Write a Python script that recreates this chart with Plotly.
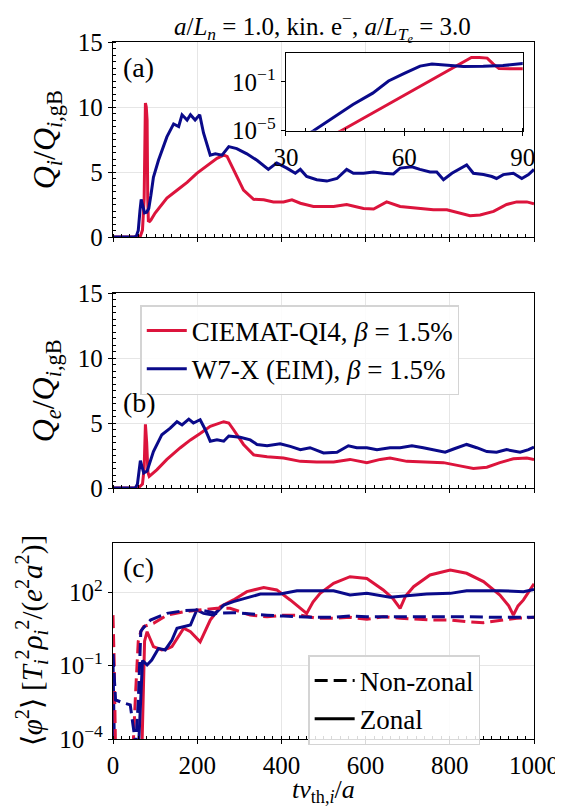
import plotly.graph_objects as go

# ---------------- data ----------------
# Panel (a): ion heat flux Q_i / Q_i,gB
t_qi_ciemat = [0, 30, 44, 50, 55, 60, 65, 70, 74, 77, 79, 81, 82.5, 84, 87, 90,
               100, 128, 152, 176, 199, 223, 247, 263, 271, 286, 310, 334, 358,
               381, 405, 425, 445, 476, 524, 555, 595, 619, 650, 682, 722, 761,
               793, 824, 848, 872, 904, 935, 959, 983, 1000]
qi_ciemat = [1e-9, 3e-8, 1e-5, 1.26e-4, 1e-3, 8.1e-3, 6.6e-2, 0.53, 2.9, 10.3, 10.0,
             9.0, 3.0, 1.25, 1.2, 1.3,
             1.84, 3.0, 3.6, 4.2, 4.9, 5.5, 6.05, 6.3, 6.2, 5.2, 3.6, 2.9, 2.86,
             2.7, 2.7, 2.86, 2.6, 2.35, 2.35, 2.5, 2.2, 2.15, 2.7, 2.35, 2.2, 2.1,
             2.1, 1.84, 1.64, 1.7, 1.97, 2.5, 2.7, 2.7, 2.55]

t_qi_w7x = [0, 30, 37, 42, 47, 52, 56, 60, 64, 67, 70, 75, 80, 85, 90, 96, 108, 128,
            144, 156, 164, 176, 184, 195, 206, 215, 231, 243, 259, 275, 294, 318,
            342, 358, 369, 389, 413, 433, 445, 460, 484, 508, 532, 555, 571, 595,
            619, 642, 666, 682, 710, 729, 753, 769, 785, 805, 820, 840, 856, 880,
            900, 911, 927, 951, 971, 987, 1000]
qi_w7x = [1e-9, 4e-7, 1e-5, 1.1e-4, 1.4e-3, 1.2e-2, 0.12, 0.5, 2.0, 2.9, 2.5, 1.85,
          1.9, 2.2, 3.2, 4.6, 5.9, 7.7, 8.7, 8.5, 9.4, 9.0, 9.4, 9.0, 9.4, 8.0, 6.3,
          6.4, 6.3, 6.95, 6.8, 6.4, 5.9, 5.5, 5.2, 5.7, 5.3, 4.9, 5.2, 4.65, 4.4,
          4.3, 4.5, 5.2, 4.9, 4.9, 5.0, 4.9, 4.85, 5.3, 5.4, 5.2, 5.0, 5.0, 4.4,
          4.9, 5.2, 5.55, 4.9, 4.8, 4.65, 4.5, 4.8, 4.9, 4.5, 4.8, 5.2]

# Panel (b): electron heat flux Q_e / Q_i,gB
t_qe_ciemat = [0, 60, 70, 74, 77, 80, 83, 86, 104, 128, 160, 184, 207, 231, 263,
               275, 286, 310, 334, 366, 405, 445, 484, 524, 563, 603, 635, 658,
               698, 737, 785, 824, 856, 888, 919, 951, 983, 1000]
qe_ciemat = [0, 0, 0.3, 1.5, 4.9, 3.5, 1.2, 0.9, 1.4, 2.2, 3.1, 3.7, 4.2, 4.75, 5.1,
             5.0, 4.5, 3.35, 2.55, 2.4, 2.3, 2.05, 2.0, 2.0, 2.2, 1.95, 2.2, 2.3,
             2.05, 2.0, 1.95, 1.7, 1.5, 1.6, 1.95, 2.25, 2.3, 2.2]

t_qe_w7x = [0, 53, 58, 65, 73, 81, 96, 116, 136, 152, 164, 180, 191, 207, 219, 231,
            247, 263, 275, 302, 326, 342, 366, 397, 421, 445, 468, 500, 532, 559,
            579, 603, 627, 658, 682, 710, 737, 761, 789, 809, 840, 864, 888, 911,
            935, 967, 987, 1000]
qe_w7x = [0, 0, 0.3, 2.1, 1.15, 1.3, 2.8, 4.1, 4.6, 5.1, 4.85, 5.3, 5.0, 5.25, 4.5,
          3.6, 3.7, 3.6, 4.0, 3.9, 3.7, 3.35, 3.25, 3.4, 3.2, 2.95, 3.1, 2.7, 2.75,
          3.25, 3.1, 3.1, 2.95, 3.1, 3.1, 3.25, 3.1, 2.95, 2.75, 3.0, 3.35, 3.1,
          2.8, 2.75, 2.95, 2.75, 2.95, 3.15]

# Panel (c): <phi^2>, zonal and non-zonal
t_zon_ciemat = [0, 60, 69, 75, 81, 90, 96, 116, 130, 140, 155, 168, 184, 207, 231,
                255, 286, 318, 358, 389, 421, 445, 460, 475, 492, 524, 563, 603,
                642, 665, 682, 695, 714, 753, 801, 840, 880, 919, 940, 951, 962,
                975, 1000]
zon_ciemat = [1e-6, 1e-6, 6e-5, 1.0, 2.45, 1.0, 0.60, 0.44, 0.5, 0.60, 1.6, 3.4,
              2.45, 0.95, 7.4, 25.7, 49, 107, 158, 126, 49, 22, 13.8, 40, 91, 234,
              437, 372, 126, 56, 22, 71, 170, 513, 813, 603, 275, 78, 28, 11.7, 28,
              49, 224]

t_zon_w7x = [0, 2, 4, 58, 61, 70, 76, 81, 92, 108, 124, 140, 152, 184, 199, 215,
             239, 263, 286, 318, 350, 397, 437, 476, 524, 563, 603, 658, 698, 745,
             801, 840, 919, 975, 1000]
zon_w7x = [0.16, 3.2e-3, 1e-5, 1e-5, 6e-5, 0.16, 0.126, 0.107, 0.17, 0.51, 0.44,
           1.12, 3.4, 4.6, 19, 13.8, 11.7, 30, 42, 58, 85, 85, 117, 117, 117, 78,
           91, 63, 71, 85, 91, 117, 117, 107, 132]

t_nz_ciemat = [0, 3, 6, 48, 54, 60, 66, 73, 96, 128, 168, 207, 247, 278, 326, 366,
               405, 445, 484, 524, 563, 603, 642, 682, 761, 801, 840, 880, 919,
               959, 1000]
nz_ciemat = [11.7, 0.1, 3e-5, 6e-5, 1e-2, 1.0, 2.5, 4.0, 5.4, 11.7, 16.2, 19, 22.4,
             22.4, 11.7, 10, 11.7, 11.7, 8.7, 8.7, 9.5, 7.9, 10, 8.7, 7.4, 7.4,
             6.3, 5.75, 6.9, 8.7, 9.5]

t_nz_w7x = [0, 3, 6, 20, 41, 48, 54, 60, 66, 70, 89, 128, 168, 207, 247, 286, 326,
            366, 405, 445, 484, 524, 563, 603, 682, 761, 840, 919, 1000]
nz_w7x = [0.3, 0.016, 4e-3, 3.2e-3, 2.5e-3, 3.2e-4, 6e-5, 3.2e-3, 2.5, 3.2, 7.4,
          13.8, 17.8, 19, 13.8, 14.8, 12.9, 11.7, 10.7, 10, 9.5, 9.5, 10.7, 10, 10,
          10.7, 10, 9.5, 9.5]

x_ticks = [0, 200, 400, 600, 800, 1000]
q_ticks = [0, 5, 10, 15]
phi_ticks = [1e-4, 1e-1, 1e2]
phi_ticktext = ["10<sup>−4</sup>", "10<sup>−1</sup>", "10<sup>2</sup>"]
inset_xticks = [30, 60, 90]
inset_yticks = [1e-5, 1e-1]
inset_yticktext = ["10<sup>−5</sup>", "10<sup>−1</sup>"]

label_ciemat = "CIEMAT-QI4, <i>β</i> = 1.5%"
label_w7x = "W7-X (EIM), <i>β</i> = 1.5%"

# ---------------- style / layout helpers ----------------
RED = "#DC143C"
BLUE = "#0A0A8A"
LW = 3
FONT = "Liberation Serif"
DASH = "13px,6px"

OFF = 8          # default page body margin
W, H = 563, 810
AX_L, AX_R = 112.7, 534.0   # window pixel positions of plot-area edges


def fx(X):
    return (X - AX_L) / (AX_R - AX_L)


def fy(Y):
    return 1 - (Y - OFF) / H


fig = go.Figure()

# panel (a)
fig.add_trace(go.Scatter(x=t_qi_ciemat, y=qi_ciemat, mode="lines", name=label_ciemat,
                         line=dict(color=RED, width=LW), xaxis="x", yaxis="y",
                         legend="legend"))
fig.add_trace(go.Scatter(x=t_qi_w7x, y=qi_w7x, mode="lines", name=label_w7x,
                         line=dict(color=BLUE, width=LW), xaxis="x", yaxis="y",
                         legend="legend"))
# panel (b)
fig.add_trace(go.Scatter(x=t_qe_ciemat, y=qe_ciemat, mode="lines", showlegend=False,
                         line=dict(color=RED, width=LW), xaxis="x2", yaxis="y2"))
fig.add_trace(go.Scatter(x=t_qe_w7x, y=qe_w7x, mode="lines", showlegend=False,
                         line=dict(color=BLUE, width=LW), xaxis="x2", yaxis="y2"))
# panel (c)
fig.add_trace(go.Scatter(x=t_zon_ciemat, y=zon_ciemat, mode="lines", showlegend=False,
                         line=dict(color=RED, width=LW), xaxis="x3", yaxis="y3"))
fig.add_trace(go.Scatter(x=t_zon_w7x, y=zon_w7x, mode="lines", showlegend=False,
                         line=dict(color=BLUE, width=LW), xaxis="x3", yaxis="y3"))
fig.add_trace(go.Scatter(x=t_nz_ciemat, y=nz_ciemat, mode="lines", showlegend=False,
                         line=dict(color=RED, width=LW, dash=DASH), xaxis="x3", yaxis="y3"))
fig.add_trace(go.Scatter(x=t_nz_w7x, y=nz_w7x, mode="lines", showlegend=False,
                         line=dict(color=BLUE, width=LW, dash=DASH), xaxis="x3", yaxis="y3"))
fig.add_trace(go.Scatter(x=[None], y=[None], mode="lines", name="Non-zonal",
                         line=dict(color="black", width=LW, dash=DASH),
                         xaxis="x3", yaxis="y3", legend="legend2"))
fig.add_trace(go.Scatter(x=[None], y=[None], mode="lines", name="Zonal",
                         line=dict(color="black", width=LW),
                         xaxis="x3", yaxis="y3", legend="legend2"))
# inset
fig.add_trace(go.Scatter(x=t_qi_ciemat, y=qi_ciemat, mode="lines", showlegend=False,
                         line=dict(color=RED, width=LW), xaxis="x4", yaxis="y4"))
fig.add_trace(go.Scatter(x=t_qi_w7x, y=qi_w7x, mode="lines", showlegend=False,
                         line=dict(color=BLUE, width=LW), xaxis="x4", yaxis="y4"))

tickfont = dict(family=FONT, size=25, color="black")
common = dict(showline=True, mirror=True, linecolor="black", linewidth=1.3,
              ticks="outside", ticklen=4, tickwidth=1.2, tickcolor="black",
              tickfont=tickfont, zeroline=False, gridcolor="#e6e6e6", gridwidth=1,
              automargin=False)


def xax(show_labels, anchor):
    return dict(common, domain=[0, 1], range=[0, 1000], tickvals=x_ticks,
                showticklabels=show_labels, anchor=anchor, showgrid=True,
                minor=dict(dtick=20, ticks="inside", ticklen=2.5, tickcolor="black",
                           showgrid=False))


def yq(top, bottom, anchor):
    return dict(common, domain=[fy(bottom), fy(top)], range=[0, 15], tickvals=q_ticks,
                anchor=anchor, showgrid=True,
                minor=dict(dtick=0.5, ticks="inside", ticklen=2.5, tickcolor="black",
                           showgrid=False))


fig.update_layout(
    width=W, height=H,
    margin=dict(l=AX_L - OFF, r=W - (AX_R - OFF), t=0, b=0, autoexpand=False),
    paper_bgcolor="white", plot_bgcolor="white",
    font=dict(family=FONT, size=24, color="black"),
    xaxis=xax(False, "y"),
    yaxis=yq(42, 237, "x"),
    xaxis2=xax(False, "y2"),
    yaxis2=yq(293, 488, "x2"),
    xaxis3=xax(True, "y3"),
    yaxis3=dict(common, domain=[fy(739), fy(543)], type="log",
                range=[-4, 4.02], tickvals=phi_ticks, ticktext=phi_ticktext,
                anchor="x3", showgrid=True),
    xaxis4=dict(common, domain=[fx(285.7), fx(522.7)],
                range=[30, 90], tickvals=inset_xticks, anchor="y4", showgrid=False,
                minor=dict(dtick=5, ticks="inside", ticklen=2.5, tickcolor="black")),
    yaxis4=dict(common, domain=[fy(130.7), fy(53.3)], type="log",
                range=[-5, 1.35], tickvals=inset_yticks, ticktext=inset_yticktext,
                anchor="x4", showgrid=False),
    legend=dict(x=fx(140), y=fy(305), xanchor="left", yanchor="top",
                bgcolor="rgba(255,255,255,0.85)", bordercolor="#d4d4d4", borderwidth=1.5,
                font=dict(family=FONT, size=27), tracegroupgap=0, itemwidth=40),
    legend2=dict(x=fx(308), y=fy(655), xanchor="left", yanchor="top",
                 bgcolor="rgba(255,255,255,0.85)", bordercolor="#d4d4d4", borderwidth=1.5,
                 font=dict(family=FONT, size=27), tracegroupgap=0, itemwidth=40),
)

ann = dict(xref="paper", yref="paper", showarrow=False, font=dict(family=FONT, size=28))
fig.add_annotation(ann, x=fx(322), y=fy(27), xanchor="center", yanchor="middle",
                   font=dict(family=FONT, size=25),
                   text="<i>a</i>/<i>L<sub>n</sub></i> = 1.0, kin. e<sup>−</sup>, "
                        "<i>a</i>/<i>L<sub>T<sub>e</sub></sub></i> = 3.0")
fig.add_annotation(ann, x=fx(121), y=fy(67), xanchor="left", yanchor="middle", text="(a)")
fig.add_annotation(ann, x=fx(121), y=fy(403), xanchor="left", yanchor="middle", text="(b)")
fig.add_annotation(ann, x=fx(121), y=fy(567), xanchor="left", yanchor="middle", text="(c)")
fig.add_annotation(ann, x=fx(46), y=fy(140), textangle=-90,
                   xanchor="center", yanchor="middle", font=dict(family=FONT, size=32),
                   text="<i>Q<sub>i</sub></i>/<i>Q</i><sub><i>i</i>,gB</sub>")
fig.add_annotation(ann, x=fx(46), y=fy(391), textangle=-90,
                   xanchor="center", yanchor="middle", font=dict(family=FONT, size=32),
                   text="<i>Q<sub>e</sub></i>/<i>Q</i><sub><i>i</i>,gB</sub>")
fig.add_annotation(ann, x=fx(31), y=fy(641), textangle=-90,
                   xanchor="center", yanchor="middle", font=dict(family=FONT, size=29),
                   text="⟨<i>φ</i><sup>2</sup>⟩ [<i>T</i><sub><i>i</i></sub><sup>2</sup>"
                        "<i>ρ</i><sub><i>i</i></sub><sup>2</sup>/(<i>e</i><sup>2</sup>"
                        "<i>a</i><sup>2</sup>)]")
fig.add_annotation(ann, x=fx(323), y=fy(791), xanchor="center", yanchor="middle",
                   font=dict(family=FONT, size=26),
                   text="<i>tv</i><sub>th,<i>i</i></sub>/<i>a</i>")

fig.write_html("out.html")
